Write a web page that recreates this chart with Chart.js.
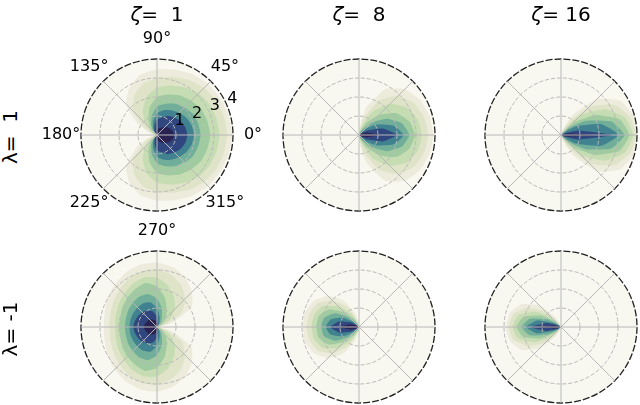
<!DOCTYPE html>
<html><head><meta charset="utf-8">
<script src="https://cdn.jsdelivr.net/npm/chart.js@4"></script>
<style>
html,body{margin:0;padding:0;background:#fff;width:640px;height:405px;overflow:hidden;position:relative;font-family:"DejaVu Sans",sans-serif;}
canvas{position:absolute;}
.title{position:absolute;font-size:20px;color:#000;white-space:pre;transform:translate(-50%,-50%);line-height:1;}
.row{position:absolute;font-size:20px;color:#000;white-space:pre;transform:translate(-50%,-50%) rotate(-90deg);line-height:1;}
</style></head><body>
<script>
// ---- data ----
const zetaValues = [1, 8, 16];
const lambdaValues = [1, -1];
const profileAngles = [0, 15, 30, 45, 60, 75, 90, 105, 120, 135, 150, 165, 180]; // half profile, mirrored about 0°
const angleTickValues = [0, 45, 90, 135, 180, 225, 270, 315];
const angleTickLabels = ['0°', '45°', '90°', '135°', '180°', '225°', '270°', '315°'];
const radialTicks = [1, 2, 3, 4];
const levelColors = ['#ecebdc', '#dfe4c8', '#c6dcb3', '#a0cba1', '#70ae99', '#418290', '#30467e', '#2a2352'];

// contour radius (lightest level first) at each profile angle
const lam1_zeta1 = [
  [3.95, 3.9, 3.85, 3.8, 3.7, 3.55, 3.45, 3.3, 2.9, 2.3, 1.2, 0.35, 0],
  [3.7, 3.65, 3.6, 3.5, 3.35, 3.15, 3.0, 2.8, 2.4, 1.75, 0.75, 0.2, 0],
  [3.3, 3.25, 3.2, 3.1, 2.9, 2.7, 2.5, 2.1, 1.5, 0.9, 0.35, 0.08, 0],
  [2.8, 2.75, 2.7, 2.55, 2.4, 2.2, 2.0, 1.5, 0.9, 0.45, 0.15, 0.03, 0],
  [2.3, 2.25, 2.2, 2.05, 1.9, 1.7, 1.5, 1.05, 0.6, 0.25, 0.08, 0, 0],
  [1.95, 1.9, 1.8, 1.65, 1.5, 1.35, 1.15, 0.75, 0.4, 0.15, 0.03, 0, 0],
  [1.6, 1.55, 1.45, 1.3, 1.15, 0.95, 0.8, 0.5, 0.25, 0.07, 0, 0, 0],
  [0.9, 0.85, 0.75, 0.6, 0.45, 0.35, 0.25, 0.12, 0.04, 0, 0, 0, 0]
];
const lam1_zeta8 = [
  [3.9, 3.85, 3.7, 3.4, 2.8, 1.5, 0.3, 0, 0, 0, 0, 0, 0],
  [3.65, 3.55, 3.35, 2.9, 2.1, 0.9, 0.1, 0, 0, 0, 0, 0, 0],
  [3.3, 3.2, 2.9, 2.3, 1.4, 0.4, 0, 0, 0, 0, 0, 0, 0],
  [2.95, 2.75, 2.3, 1.5, 0.7, 0.1, 0, 0, 0, 0, 0, 0, 0],
  [2.65, 2.35, 1.7, 0.9, 0.3, 0, 0, 0, 0, 0, 0, 0, 0],
  [2.35, 1.9, 1.1, 0.45, 0.1, 0, 0, 0, 0, 0, 0, 0, 0],
  [2.0, 1.3, 0.45, 0.1, 0, 0, 0, 0, 0, 0, 0, 0, 0],
  [1.1, 0.45, 0.1, 0, 0, 0, 0, 0, 0, 0, 0, 0, 0]
];
const lam1_zeta16 = [
  [4.0, 3.95, 3.6, 2.7, 1.2, 0.2, 0, 0, 0, 0, 0, 0, 0],
  [3.95, 3.75, 3.2, 2.1, 0.7, 0.05, 0, 0, 0, 0, 0, 0, 0],
  [3.8, 3.5, 2.7, 1.5, 0.35, 0, 0, 0, 0, 0, 0, 0, 0],
  [3.6, 3.2, 2.1, 0.9, 0.1, 0, 0, 0, 0, 0, 0, 0, 0],
  [3.35, 2.75, 1.5, 0.45, 0, 0, 0, 0, 0, 0, 0, 0, 0],
  [3.05, 2.2, 0.9, 0.15, 0, 0, 0, 0, 0, 0, 0, 0, 0],
  [2.7, 0.9, 0.1, 0, 0, 0, 0, 0, 0, 0, 0, 0, 0],
  [2.0, 0.3, 0, 0, 0, 0, 0, 0, 0, 0, 0, 0, 0]
];
const lamm1_zeta1 = [
  [0, 0.8, 2.1, 2.6, 3.0, 3.25, 3.4, 3.4, 3.3, 3.15, 3.0, 2.85, 2.8],
  [0, 0.45, 1.5, 2.1, 2.55, 2.85, 3.05, 3.05, 2.95, 2.8, 2.65, 2.55, 2.5],
  [0, 0.15, 0.75, 1.35, 1.8, 2.25, 2.6, 2.7, 2.6, 2.45, 2.35, 2.25, 2.2],
  [0, 0.05, 0.3, 0.65, 1.05, 1.6, 2.15, 2.4, 2.3, 2.2, 2.1, 2.0, 2.0],
  [0, 0, 0.1, 0.25, 0.5, 1.0, 1.5, 1.8, 1.85, 1.8, 1.75, 1.7, 1.7],
  [0, 0, 0.03, 0.1, 0.25, 0.55, 1.0, 1.35, 1.45, 1.45, 1.45, 1.45, 1.45],
  [0, 0, 0, 0.03, 0.1, 0.25, 0.55, 0.85, 1.0, 1.1, 1.15, 1.2, 1.25],
  [0, 0, 0, 0, 0.02, 0.08, 0.2, 0.35, 0.45, 0.55, 0.6, 0.65, 0.7]
];
const lamm1_zeta8 = [
  [0, 0, 0, 0, 0, 0, 0.15, 0.7, 1.6, 2.3, 2.75, 2.95, 2.95],
  [0, 0, 0, 0, 0, 0, 0.05, 0.4, 1.2, 1.95, 2.5, 2.7, 2.75],
  [0, 0, 0, 0, 0, 0, 0, 0.2, 0.8, 1.55, 2.2, 2.45, 2.5],
  [0, 0, 0, 0, 0, 0, 0, 0.05, 0.45, 1.1, 1.85, 2.2, 2.25],
  [0, 0, 0, 0, 0, 0, 0, 0, 0.2, 0.7, 1.45, 1.9, 2.0],
  [0, 0, 0, 0, 0, 0, 0, 0, 0.05, 0.35, 1.0, 1.55, 1.75],
  [0, 0, 0, 0, 0, 0, 0, 0, 0, 0.1, 0.5, 1.1, 1.5],
  [0, 0, 0, 0, 0, 0, 0, 0, 0, 0, 0.15, 0.5, 1.0]
];
const lamm1_zeta16 = [
  [0, 0, 0, 0, 0, 0, 0, 0.1, 0.6, 1.6, 2.4, 2.8, 2.9],
  [0, 0, 0, 0, 0, 0, 0, 0, 0.3, 1.15, 2.0, 2.6, 2.75],
  [0, 0, 0, 0, 0, 0, 0, 0, 0.1, 0.75, 1.6, 2.35, 2.55],
  [0, 0, 0, 0, 0, 0, 0, 0, 0, 0.4, 1.2, 2.05, 2.35],
  [0, 0, 0, 0, 0, 0, 0, 0, 0, 0.15, 0.8, 1.7, 2.1],
  [0, 0, 0, 0, 0, 0, 0, 0, 0, 0.05, 0.4, 1.3, 1.85],
  [0, 0, 0, 0, 0, 0, 0, 0, 0, 0, 0.15, 0.8, 1.6],
  [0, 0, 0, 0, 0, 0, 0, 0, 0, 0, 0, 0.3, 1.3]
];
const panelData = [[lam1_zeta1, lam1_zeta8, lam1_zeta16], [lamm1_zeta1, lamm1_zeta8, lamm1_zeta16]];

// ---- layout ----
const colCenters = [157, 359, 561];
const rowCenters = [135, 327];
const CANVAS = 240, PAD = 44;
const step = profileAngles[1] - profileAngles[0];
const nSpokes = Math.round(360 / step);
const half = profileAngles.length - 1;

// spoke i (clockwise from 0°) corresponds to math angle (360 - i*step) % 360
function fullProfile(h) {
  const out = [];
  for (let i = 0; i < nSpokes; i++) out.push(h[i <= half ? i : nSpokes - i]);
  return out;
}
function indexForAngle(deg) { return ((360 - deg) % 360) / step; }

const bgPlugin = {
  id: 'polarBg',
  beforeDatasetsDraw(chart) {
    const s = chart.scales.r, ctx = chart.ctx;
    ctx.save();
    ctx.fillStyle = '#f8f7f0';
    ctx.beginPath();
    ctx.arc(s.xCenter, s.yCenter, s.drawingArea, 0, Math.PI * 2);
    ctx.fill();
    ctx.restore();
  }
};
const labelPlugin = {
  id: 'polarLabels',
  afterDraw(chart, args, opts) {
    if (!opts.show) return;
    const s = chart.scales.r, ctx = chart.ctx;
    ctx.save();
    ctx.fillStyle = '#000';
    ctx.font = '16px "DejaVu Sans"';
    ctx.textAlign = 'center';
    ctx.textBaseline = 'middle';
    angleTickValues.forEach((a, k) => {
      const p = s.getPointPosition(indexForAngle(a), s.drawingArea + 20);
      ctx.fillText(angleTickLabels[k], p.x, p.y);
    });
    ctx.textAlign = 'left';
    ctx.textBaseline = 'bottom';
    radialTicks.forEach(v => {
      const p = s.getPointPositionForValue(indexForAngle(22.5), v);
      ctx.fillText(String(v), p.x, p.y + 1);
    });
    ctx.restore();
  }
};

lambdaValues.forEach((lam, r) => {
  zetaValues.forEach((z, c) => {
    const cv = document.createElement('canvas');
    cv.width = CANVAS; cv.height = CANVAS;
    cv.style.left = (colCenters[c] - CANVAS / 2) + 'px';
    cv.style.top = (rowCenters[r] - CANVAS / 2) + 'px';
    document.body.appendChild(cv);
    const levels = panelData[r][c];
    const datasets = [];
    for (let k = levels.length - 1; k >= 0; k--) {
      datasets.push({
        data: fullProfile(levels[k]),
        backgroundColor: levelColors[k],
        borderWidth: 0,
        fill: 'origin',
        pointRadius: 0,
        pointHoverRadius: 0,
        tension: 0.15
      });
    }
    new Chart(cv, {
      type: 'radar',
      data: { labels: new Array(nSpokes).fill(''), datasets },
      plugins: [bgPlugin, labelPlugin],
      options: {
        responsive: false,
        animation: false,
        layout: { padding: PAD },
        plugins: { legend: { display: false }, tooltip: { enabled: false }, polarLabels: { show: r === 0 && c === 0 } },
        scales: {
          r: {
            min: 0, max: 4,
            startAngle: 90,
            ticks: { display: false, stepSize: 1 },
            pointLabels: { display: false },
            grid: {
              circular: true, z: 1,
              color: ctx => ctx.tick && ctx.tick.value === 4 ? '#222222' : '#b8b8b8',
              lineWidth: ctx => ctx.tick && ctx.tick.value === 4 ? 1.3 : 1
            },
            border: { dash: ctx => ctx.tick && ctx.tick.value === 4 ? [7, 2] : [4, 2] },
            angleLines: { color: ctx => ctx.index % 3 === 0 ? '#b8b8b8' : 'rgba(0,0,0,0)', lineWidth: 1 }
          }
        }
      }
    });
  });
});

// titles and row labels (text)
zetaValues.forEach((z, c) => {
  const d = document.createElement('div');
  d.className = 'title';
  d.style.left = colCenters[c] + 'px';
  d.style.top = '14px';
  d.innerHTML = '<span style="font-style:italic">ζ</span>= ' + String(z).padStart(2, ' ');
  document.body.appendChild(d);
});
lambdaValues.forEach((lam, r) => {
  const d = document.createElement('div');
  d.className = 'row';
  d.style.left = '10px';
  d.style.top = (rowCenters[r] + 2) + 'px';
  d.textContent = 'λ= ' + String(lam).padStart(2, ' ');
  document.body.appendChild(d);
});
</script>
</body></html>
